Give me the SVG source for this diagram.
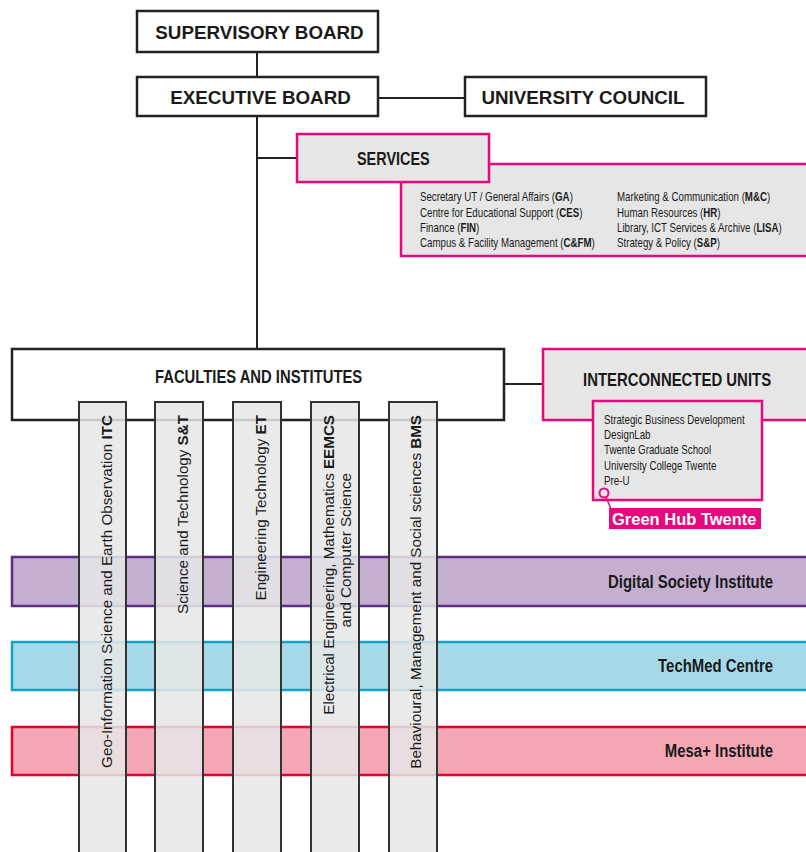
<svg xmlns="http://www.w3.org/2000/svg" width="806" height="852" viewBox="0 0 806 852">
<style>
.box{fill:#fff;stroke:#222;stroke-width:2.5}
.mbox{fill:#e6e6e6;stroke:#e5087e;stroke-width:2.5}
.conn{stroke:#222;stroke-width:2;fill:none}
.col{fill:#e6e6e6;fill-opacity:0.86;stroke:#333;stroke-width:2}
.t{font-family:"Liberation Sans",Arial,sans-serif;fill:#1a1a1a}
.hb{font-weight:bold;font-size:18.8px}
.cb{font-weight:bold;font-size:19px}
.sl{font-size:12px}
.il{font-size:12.5px}
.ct{font-size:15.2px}
.b{font-weight:bold}
</style>
<rect width="806" height="852" fill="#fff"/>

<g id="connectors">
<line class="conn" x1="257" y1="52" x2="257" y2="77"/>
<line class="conn" x1="378" y1="98" x2="465" y2="98"/>
<line class="conn" x1="257" y1="116" x2="257" y2="349"/>
<line class="conn" x1="257" y1="158" x2="297" y2="158" stroke-width="1.5"/>
<line class="conn" x1="504" y1="384" x2="543" y2="384" stroke-width="1.5"/>
</g>

<g id="supervisory-board">
<rect class="box" x="137" y="11" width="241" height="41"/>
<text class="t hb" x="259.5" y="38.5" text-anchor="middle">SUPERVISORY BOARD</text>
</g>
<g id="executive-board">
<rect class="box" x="137" y="77" width="241" height="39"/>
<text class="t hb" x="260.5" y="103.5" text-anchor="middle">EXECUTIVE BOARD</text>
</g>
<g id="university-council">
<rect class="box" x="465" y="77" width="241" height="39"/>
<text class="t hb" x="583" y="103.5" text-anchor="middle">UNIVERSITY COUNCIL</text>
</g>

<g id="services">
<rect class="mbox" x="401" y="164" width="420" height="92"/>
<rect class="mbox" x="297" y="134" width="192" height="48"/>
<text class="t cb" transform="translate(357,164.5) scale(0.76,1)">SERVICES</text>
<g class="t sl">
<text transform="translate(420,201) scale(0.81,1)">Secretary UT / General Affairs (<tspan class="b">GA</tspan>)</text>
<text transform="translate(420,216.5) scale(0.81,1)">Centre for Educational Support (<tspan class="b">CES</tspan>)</text>
<text transform="translate(420,232) scale(0.81,1)">Finance (<tspan class="b">FIN</tspan>)</text>
<text transform="translate(420,247) scale(0.81,1)">Campus &amp; Facility Management (<tspan class="b">C&amp;FM</tspan>)</text>
<text transform="translate(617,201) scale(0.81,1)">Marketing &amp; Communication (<tspan class="b">M&amp;C</tspan>)</text>
<text transform="translate(617,216.5) scale(0.81,1)">Human Resources (<tspan class="b">HR</tspan>)</text>
<text transform="translate(617,232) scale(0.81,1)">Library, ICT Services &amp; Archive (<tspan class="b">LISA</tspan>)</text>
<text transform="translate(617,247) scale(0.81,1)">Strategy &amp; Policy (<tspan class="b">S&amp;P</tspan>)</text>
</g>
</g>

<g id="faculties-and-institutes">
<rect class="box" x="12" y="349" width="492" height="71"/>
<text class="t cb" transform="translate(155,383) scale(0.78,1)">FACULTIES AND INSTITUTES</text>
</g>

<g id="interconnected-units">
<rect class="mbox" x="543" y="349" width="278" height="71"/>
<text class="t cb" transform="translate(583,385.5) scale(0.785,1)">INTERCONNECTED UNITS</text>
<rect class="mbox" x="593" y="401" width="169" height="99"/>
<g class="t il">
<text transform="translate(604,424) scale(0.78,1)">Strategic Business Development</text>
<text transform="translate(604,439) scale(0.78,1)">DesignLab</text>
<text transform="translate(604,454) scale(0.78,1)">Twente Graduate School</text>
<text transform="translate(604,469.5) scale(0.78,1)">University College Twente</text>
<text transform="translate(604,485) scale(0.78,1)">Pre-U</text>
</g>
</g>

<g id="green-hub-twente">
<line x1="606" y1="497" x2="611" y2="509" stroke="#e5087e" stroke-width="1.5"/>
<circle cx="604" cy="493" r="4.5" fill="#e6e6e6" stroke="#e5087e" stroke-width="2"/>
<rect x="609" y="508" width="152" height="21" fill="#e5087e"/>
<text x="612" y="525" font-family="Liberation Sans, Arial, sans-serif" font-size="16.5" font-weight="bold" fill="#fff">Green Hub Twente</text>
</g>

<g id="digital-society-institute">
<rect x="12" y="557" width="809" height="49" fill="#c4afd0" stroke="#5b2d86" stroke-width="2.5"/>
<text class="t cb" transform="translate(773,588) scale(0.785,1)" text-anchor="end">Digital Society Institute</text>
</g>
<g id="techmed-centre">
<rect x="12" y="642" width="809" height="48" fill="#a6d9e8" stroke="#12a3cc" stroke-width="2.5"/>
<text class="t cb" transform="translate(773,672) scale(0.785,1)" text-anchor="end">TechMed Centre</text>
</g>
<g id="mesa-institute">
<rect x="12" y="727" width="809" height="48" fill="#f4a6b4" stroke="#e4002b" stroke-width="2.5"/>
<text class="t cb" transform="translate(773,757) scale(0.785,1)" text-anchor="end">Mesa+ Institute</text>
</g>

<g id="faculty-itc">
<rect class="col" x="79" y="402" width="47" height="460"/>
<text class="t ct" transform="rotate(-90)" x="-415" y="112" text-anchor="end">Geo-Information Science and Earth Observation <tspan class="b">ITC</tspan></text>
</g>
<g id="faculty-st">
<rect class="col" x="155" y="402" width="48" height="460"/>
<text class="t ct" transform="rotate(-90)" x="-415" y="188" text-anchor="end">Science and Technology <tspan class="b">S&amp;T</tspan></text>
</g>
<g id="faculty-et">
<rect class="col" x="233" y="402" width="48" height="460"/>
<text class="t ct" transform="rotate(-90)" x="-415" y="266" text-anchor="end">Engineering Technology <tspan class="b">ET</tspan></text>
</g>
<g id="faculty-eemcs">
<rect class="col" x="311" y="402" width="48" height="460"/>
<text class="t ct" transform="rotate(-90)" x="-415" y="334" text-anchor="end">Electrical Engineering, Mathematics <tspan class="b">EEMCS</tspan></text>
<text class="t ct" transform="rotate(-90)" x="-473" y="351" text-anchor="end">and Computer Science</text>
</g>
<g id="faculty-bms">
<rect class="col" x="389" y="402" width="48" height="460"/>
<text class="t ct" transform="rotate(-90)" x="-415" y="421" text-anchor="end">Behavioural, Management and Social sciences <tspan class="b">BMS</tspan></text>
</g>
</svg>
